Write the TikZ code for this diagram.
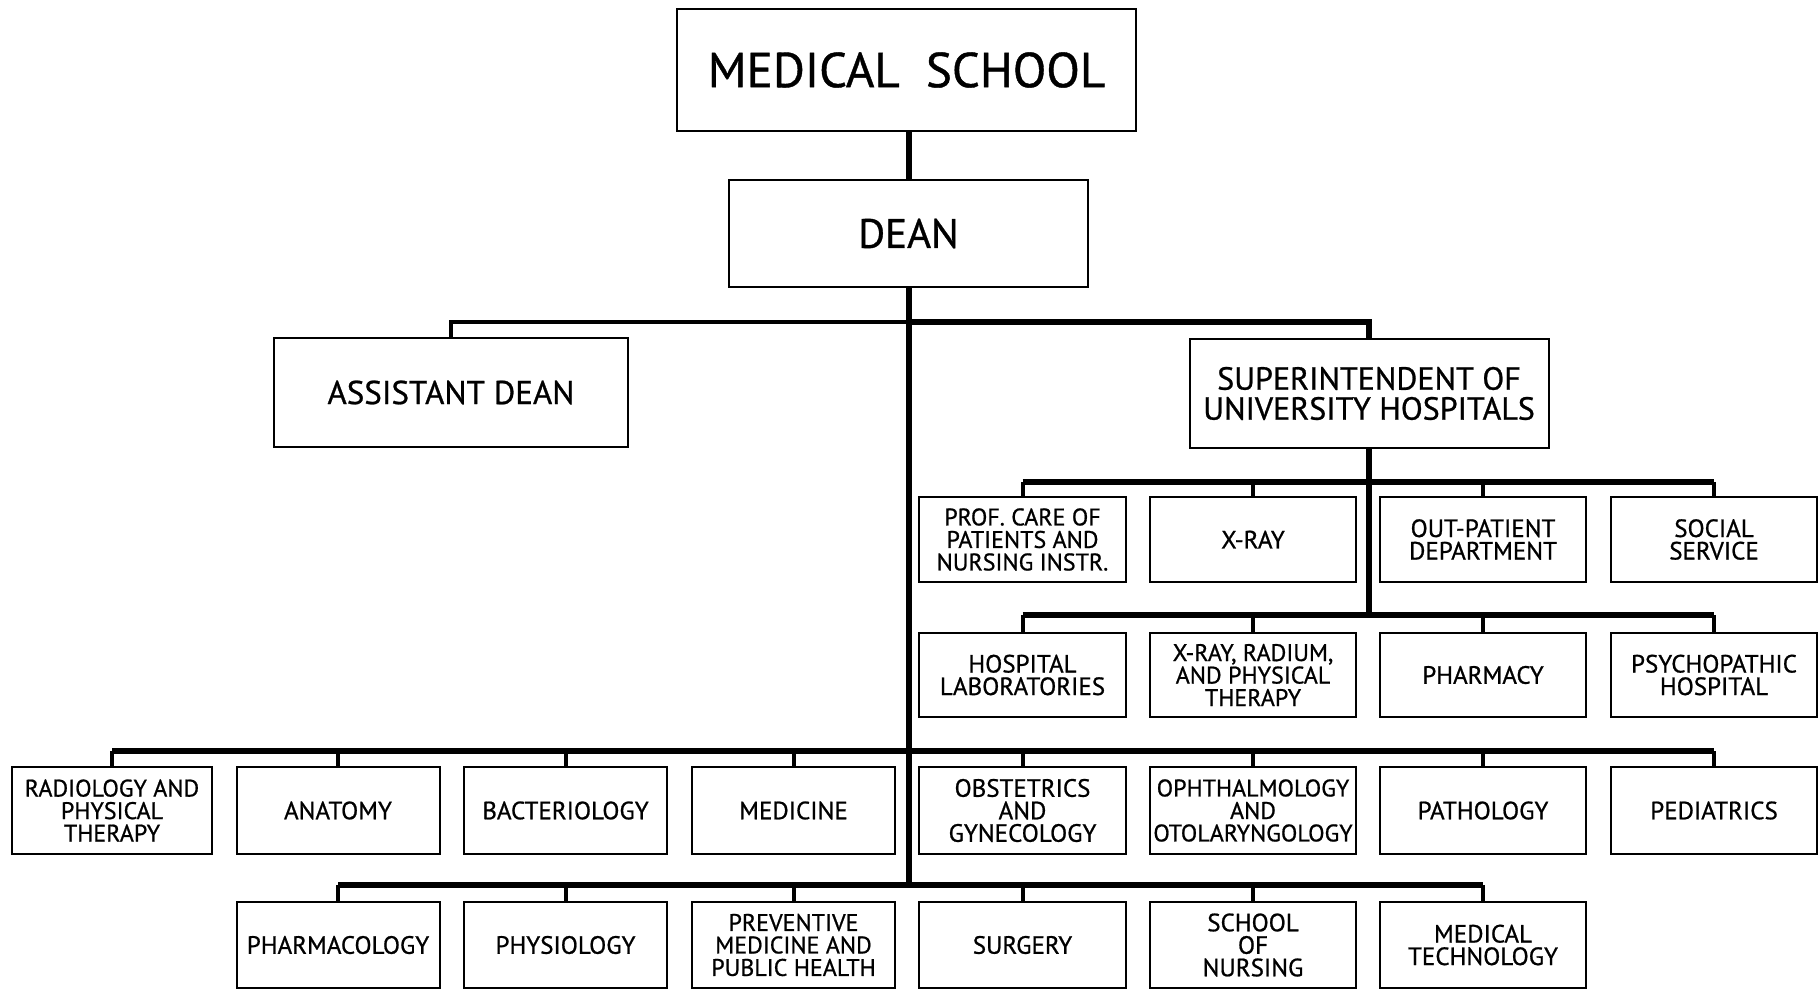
\documentclass[tikz,border=0pt]{standalone}
\usepackage{fontspec}
\setmainfont{PT Sans}[FakeBold=0.8]
\begin{document}
\begin{tikzpicture}[x=1pt,y=-1pt,
  box/.style={draw,line width=2pt,rectangle,align=center,inner sep=0pt,font=\fontsize{25}{22.5}\selectfont},
  bus/.style={line width=5.5pt},
  drop/.style={line width=4pt},
  thin bus/.style={line width=4pt}]
\useasboundingbox (0,0) rectangle (1820,989);
% top
\node[box,minimum width=459pt,minimum height=122pt,font=\fontsize{49}{49}\selectfont] (ms) at (906.5,70) {MEDICAL\ \ SCHOOL};
\node[box,minimum width=359pt,minimum height=107pt,font=\fontsize{41}{41}\selectfont] (dean) at (908.5,233.5) {DEAN};
\node[box,minimum width=354pt,minimum height=109pt,font=\fontsize{33}{33}\selectfont] (ad) at (451,392.5) {ASSISTANT\ DEAN};
\node[box,minimum width=359pt,minimum height=109pt,font=\fontsize{32}{30}\selectfont] (sup) at (1369,393.5) {SUPERINTENDENT OF\\UNIVERSITY\ HOSPITALS};
% hospital rows
\node[box,minimum width=207pt,minimum height=85pt,font=\fontsize{24}{22.5}\selectfont] (h1) at (1022.5,539.5) {PROF. CARE OF\\PATIENTS AND\\NURSING INSTR.};
\node[box,minimum width=206pt,minimum height=85pt] (h2) at (1253,539.5) {X-RAY};
\node[box,minimum width=206pt,minimum height=85pt] (h3) at (1483,539.5) {OUT-PATIENT\\DEPARTMENT};
\node[box,minimum width=206pt,minimum height=85pt] (h4) at (1714,539.5) {SOCIAL\\SERVICE};
\node[box,minimum width=207pt,minimum height=84pt] (h5) at (1022.5,675) {HOSPITAL\\LABORATORIES};
\node[box,minimum width=206pt,minimum height=84pt,font=\fontsize{24}{22.5}\selectfont] (h6) at (1253,675) {X-RAY, RADIUM,\\AND PHYSICAL\\THERAPY};
\node[box,minimum width=206pt,minimum height=84pt] (h7) at (1483,675) {PHARMACY};
\node[box,minimum width=206pt,minimum height=84pt] (h8) at (1714,675) {PSYCHOPATHIC\\HOSPITAL};
% departments row 1
\node[box,minimum width=200pt,minimum height=87pt,font=\fontsize{24}{22.5}\selectfont] (d1) at (112,810.5) {RADIOLOGY AND\\PHYSICAL\\THERAPY};
\node[box,minimum width=203pt,minimum height=87pt] (d2) at (338,810.5) {ANATOMY};
\node[box,minimum width=203pt,minimum height=87pt] (d3) at (565.5,810.5) {BACTERIOLOGY};
\node[box,minimum width=203pt,minimum height=87pt] (d4) at (793.5,810.5) {MEDICINE};
\node[box,minimum width=207pt,minimum height=87pt] (d5) at (1022.5,810.5) {OBSTETRICS\\AND\\GYNECOLOGY};
\node[box,minimum width=206pt,minimum height=87pt,font=\fontsize{24}{22.5}\selectfont] (d6) at (1253,810.5) {OPHTHALMOLOGY\\AND\\OTOLARYNGOLOGY};
\node[box,minimum width=206pt,minimum height=87pt] (d7) at (1483,810.5) {PATHOLOGY};
\node[box,minimum width=206pt,minimum height=87pt] (d8) at (1714,810.5) {PEDIATRICS};
% departments row 2
\node[box,minimum width=203pt,minimum height=86pt] (e1) at (338,945) {PHARMACOLOGY};
\node[box,minimum width=203pt,minimum height=86pt] (e2) at (565.5,945) {PHYSIOLOGY};
\node[box,minimum width=203pt,minimum height=86pt,font=\fontsize{24}{22.5}\selectfont] (e3) at (793.5,945) {PREVENTIVE\\MEDICINE AND\\PUBLIC HEALTH};
\node[box,minimum width=207pt,minimum height=86pt] (e4) at (1022.5,945) {SURGERY};
\node[box,minimum width=206pt,minimum height=86pt] (e5) at (1253,945) {SCHOOL\\OF\\NURSING};
\node[box,minimum width=206pt,minimum height=86pt] (e6) at (1483,945) {MEDICAL\\TECHNOLOGY};
% coordinates
\coordinate (tb) at (909,322);
\coordinate (trunkend) at (909,885);
\coordinate (hb1) at (1369,482);
\coordinate (hb2) at (1369,615);
\coordinate (db1) at (909,751);
% connectors
\draw[bus] (ms.south -| tb) -- (dean.north -| tb);
\draw[bus] (dean.south -| tb) -- (trunkend);
\draw[thin bus] (tb) -| (ad.north);
\draw[bus] (tb) -| (sup.north);
\draw[bus] (sup.south) -- (hb2);
\draw[bus] (h1.north |- hb1) -- (h4.north |- hb1);
\draw[bus] (h1.north |- hb2) -- (h8.north |- hb2);
\foreach \n in {h1,h2,h3,h4} \draw[drop] (\n.north |- hb1) -- (\n.north);
\foreach \n in {h5,h6,h7,h8} \draw[drop] (\n.north |- hb2) -- (\n.north);
\draw[bus] (d1.north |- db1) -- (d8.north |- db1);
\draw[bus] (e1.north |- trunkend) -- (e6.north |- trunkend);
\foreach \n in {d1,d2,d3,d4,d5,d6,d7,d8} \draw[drop] (\n.north |- db1) -- (\n.north);
\foreach \n in {e1,e2,e3,e4,e5,e6} \draw[drop] (\n.north |- trunkend) -- (\n.north);
\end{tikzpicture}
\end{document}
